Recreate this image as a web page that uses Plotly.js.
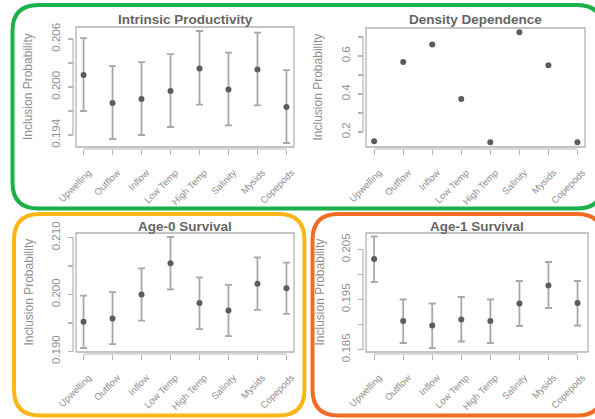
<!DOCTYPE html>
<html>
<head>
<meta charset="utf-8">
<script src="https://cdn.plot.ly/plotly-3.0.1.min.js"></script>
<style>html,body{margin:0;padding:0;background:#fff;}#chart{width:595px;height:419px;}</style>
</head>
<body>
<div id="chart"></div>
<script>
// ---- data ----
const categories = ['Upwelling','Outflow','Inflow','Low Temp','High Temp','Salinity','Mysids','Copepods'];

const intrinsicMean  = [0.2015,0.1980,0.1985,0.1995,0.2023,0.1997,0.2022,0.1975];
const intrinsicUpper = [0.2061,0.2026,0.2031,0.2041,0.2070,0.2043,0.2068,0.2021];
const intrinsicLower = [0.1970,0.1935,0.1940,0.1950,0.1978,0.1952,0.1977,0.1930];

const densityMean = [0.151,0.568,0.660,0.374,0.146,0.725,0.551,0.146];

const age0Mean  = [0.1952,0.1958,0.2000,0.2055,0.1985,0.1972,0.2019,0.2011];
const age0Upper = [0.1998,0.2004,0.2046,0.2101,0.2030,0.2017,0.2065,0.2056];
const age0Lower = [0.1906,0.1913,0.1954,0.2009,0.1939,0.1927,0.1973,0.1966];

const age1Mean  = [0.2031,0.1907,0.1898,0.1910,0.1907,0.1942,0.1978,0.1943];
const age1Upper = [0.2076,0.1950,0.1942,0.1955,0.1950,0.1987,0.2025,0.1987];
const age1Lower = [0.1985,0.1863,0.1853,0.1866,0.1863,0.1897,0.1933,0.1898];

const panelTitles = ['Intrinsic Productivity','Density Dependence','Age-0 Survival','Age-1 Survival'];
const yTitle = 'Inclusion Probability';

const ticks1 = [0.194,0.197,0.200,0.203,0.206]; const tickText1 = ['0.194','','0.200','','0.206'];
const ticks2 = [0.2,0.3,0.4,0.5,0.6,0.7];       const tickText2 = ['0.2','','0.4','','0.6',''];
const ticks3 = [0.190,0.195,0.200,0.205,0.210]; const tickText3 = ['0.190','','0.200','','0.210'];
const ticks4 = [0.185,0.190,0.195,0.200,0.205]; const tickText4 = ['0.185','','0.195','','0.205'];

// ---- layout helpers (pixel -> paper) ----
const W = 595, H = 419;
const px = v => v / W;
const py = v => 1 - v / H;

const FONT = 'Liberation Sans, Arial, Helvetica, sans-serif';
const tickCol = '#8f8f8f';
const axCol = '#b3b3b3';
const ptCol = '#5c5c5c';
const errCol = '#a8a8a8';

function diff(a, b) { return a.map((v, i) => +(v - b[i]).toFixed(6)); }

function errTrace(mean, upper, lower, xa, ya) {
  return {
    type: 'scatter', mode: 'markers', x: categories, y: mean,
    xaxis: xa, yaxis: ya,
    marker: {color: ptCol, size: 6},
    error_y: {type: 'data', symmetric: false, array: diff(upper, mean), arrayminus: diff(mean, lower),
              color: errCol, thickness: 1.8, width: 3.5},
    hoverinfo: 'skip', showlegend: false
  };
}

const data = [
  errTrace(intrinsicMean, intrinsicUpper, intrinsicLower, 'x', 'y'),
  {type: 'scatter', mode: 'markers', x: categories, y: densityMean, xaxis: 'x2', yaxis: 'y2',
   marker: {color: ptCol, size: 6}, hoverinfo: 'skip', showlegend: false},
  errTrace(age0Mean, age0Upper, age0Lower, 'x3', 'y3'),
  errTrace(age1Mean, age1Upper, age1Lower, 'x4', 'y4')
];

// panel geometry in pixels: box left, right, top, bottom; x range; y range; axis positions
const panels = [
  {l: 76,  r: 294, t: 27,  b: 147, xr: [-0.26, 7.26], yr: [0.1925, 0.2075], ay: 149, ax: 73,  tv: ticks1, tt: tickText1, ttlY: 20, ytX: 28},
  {l: 366, r: 585, t: 28,  b: 147, xr: [-0.28, 7.26], yr: [0.121, 0.747],   ay: 149, ax: 363, tv: ticks2, tt: tickText2, ttlY: 20, ytX: 318},
  {l: 76,  r: 294, t: 233, b: 352, xr: [-0.26, 7.26], yr: [0.1899, 0.2108], ay: 354, ax: 73,  tv: ticks3, tt: tickText3, ttlY: 226, ytX: 28},
  {l: 366, r: 588, t: 233, b: 352, xr: [-0.28, 7.36], yr: [0.1845, 0.2083], ay: 354, ax: 363, tv: ticks4, tt: tickText4, ttlY: 226, ytX: 319}
];

const layout = {
  width: W, height: H,
  margin: {l: 0, r: 0, t: 0, b: 0},
  paper_bgcolor: '#fff', plot_bgcolor: '#fff',
  showlegend: false,
  shapes: [], annotations: []
};

panels.forEach((p, i) => {
  const n = i === 0 ? '' : String(i + 1);
  layout['xaxis' + n] = {
    domain: [px(p.l), px(p.r)], range: p.xr, type: 'category',
    anchor: 'free', position: py(p.ay),
    showline: false, showgrid: false, zeroline: false,
    ticks: 'outside', ticklen: 4.5, tickwidth: 1.2, tickcolor: axCol,
    tickangle: -45, tickfont: {family: FONT, size: 9.5, color: tickCol},
    ticklabelstandoff: 9, ticklabelshift: 5,
    fixedrange: true
  };
  layout['yaxis' + n] = {
    domain: [py(p.b), py(p.t)], range: p.yr,
    anchor: 'free', position: px(p.ax),
    showline: false, showgrid: false, zeroline: false,
    tickmode: 'array', tickvals: p.tv, ticktext: p.tt,
    ticks: 'outside', ticklen: 5, tickwidth: 1.2, tickcolor: axCol,
    tickangle: -90, tickfont: {family: FONT, size: 11.5, color: tickCol},
    ticklabelstandoff: 3,
    fixedrange: true
  };
  const xa = 'x' + n, ya = 'y' + n;
  // plot box
  layout.shapes.push({type: 'rect', xref: xa + ' domain', yref: ya + ' domain', x0: 0, x1: 1, y0: 0, y1: 1,
                      line: {color: axCol, width: 1.3}, fillcolor: 'rgba(0,0,0,0)'});
  // x axis line from first to last category
  layout.shapes.push({type: 'line', xref: xa, yref: 'paper', x0: 0, x1: categories.length - 1,
                      y0: py(p.ay), y1: py(p.ay), line: {color: axCol, width: 1.2}});
  // y axis line from lowest to highest tick
  layout.shapes.push({type: 'line', xref: 'paper', yref: ya, x0: px(p.ax), x1: px(p.ax),
                      y0: p.tv[0], y1: p.tv[p.tv.length - 1], line: {color: axCol, width: 1.2}});
  // title
  layout.annotations.push({xref: 'paper', yref: 'paper', x: px((p.l + p.r) / 2), y: py(p.ttlY),
    text: '<b>' + panelTitles[i] + '</b>', showarrow: false, xanchor: 'center', yanchor: 'middle',
    font: {family: FONT, size: 13.5, color: '#666666'}});
  // y title
  layout.annotations.push({xref: 'paper', yref: 'paper', x: px(p.ytX), y: py((p.t + p.b) / 2),
    text: yTitle, textangle: -90, showarrow: false, xanchor: 'center', yanchor: 'middle',
    font: {family: FONT, size: 12, color: tickCol}});
});

// rounded frames
function roundRect(x0, y0, x1, y1, r) {
  const P = (x, y) => px(x).toFixed(5) + ',' + py(y).toFixed(5);
  return 'M' + P(x0 + r, y0) + ' L' + P(x1 - r, y0) + ' Q' + P(x1, y0) + ' ' + P(x1, y0 + r) +
         ' L' + P(x1, y1 - r) + ' Q' + P(x1, y1) + ' ' + P(x1 - r, y1) +
         ' L' + P(x0 + r, y1) + ' Q' + P(x0, y1) + ' ' + P(x0, y1 - r) +
         ' L' + P(x0, y0 + r) + ' Q' + P(x0, y0) + ' ' + P(x0 + r, y0) + ' Z';
}
layout.shapes.push({type: 'path', xref: 'paper', yref: 'paper', path: roundRect(12.5, 5, 603, 208.5, 26),
                    line: {color: '#1bb04a', width: 4}});
layout.shapes.push({type: 'path', xref: 'paper', yref: 'paper', path: roundRect(14, 214, 304.5, 415.5, 26),
                    line: {color: '#fbb516', width: 4}});
layout.shapes.push({type: 'path', xref: 'paper', yref: 'paper', path: roundRect(312.5, 214, 603, 415.5, 26),
                    line: {color: '#f26d22', width: 4}});

Plotly.newPlot('chart', data, layout, {staticPlot: true, displayModeBar: false});
</script>
</body>
</html>
